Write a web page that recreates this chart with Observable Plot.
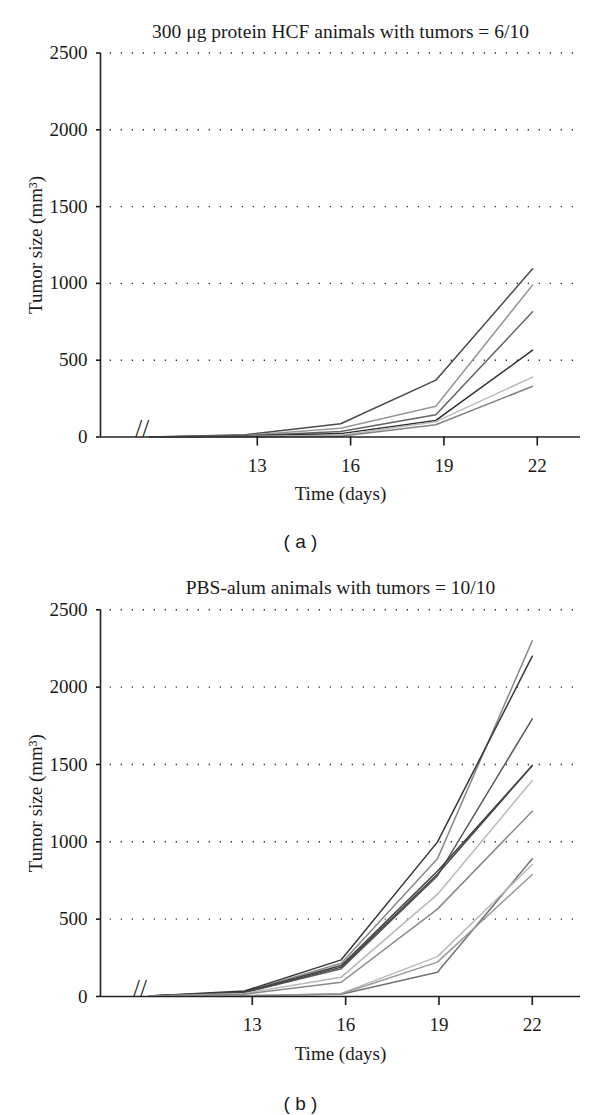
<!DOCTYPE html>
<html><head><meta charset="utf-8">
<script src="https://cdn.jsdelivr.net/npm/d3@7"></script>
<script src="https://cdn.jsdelivr.net/npm/@observablehq/plot@0.6"></script>
<style>
body{margin:0;background:#fff;width:600px;height:1115px;overflow:hidden}
#wrap{position:relative;width:600px;height:1115px}
.panel{position:absolute;left:0}
</style></head><body><div id="wrap"><div id="pa" class="panel" style="top:0"></div><div id="pb" class="panel" style="top:560px"></div></div>
<script>
const xTicks = [13, 16, 19, 22];
const yTicks = [0, 500, 1000, 1500, 2000, 2500];
const gridValues = [500, 1000, 1500, 2000, 2500];

const titleA = "300 \u03BCg protein HCF animals with tumors = 6/10";
const titleB = "PBS-alum animals with tumors = 10/10";
const xLabel = "Time (days)";
const yLabel = "Tumor size (mm\u00B3)";
const captionA = "( a )";
const captionB = "( b )";

const daysA = [9.54, 12.62, 15.68, 18.74, 21.85];
const daysB = [9.67, 12.75, 15.86, 18.95, 22.0];
const breakA = 9.3;
const breakB = 9.39;

// (a) 300 µg protein HCF: tumor volume per animal (mm³)
const hcfVolumes = [
  [0, 15, 86, 370, 1095],
  [0, 10, 57, 200, 990],
  [0, 8, 36, 145, 815],
  [0, 6, 22, 108, 565],
  [0, 4, 12, 100, 390],
  [0, 2, 5, 80, 330]
];
// (b) PBS-alum: tumor volume per animal (mm³)
const pbsVolumes = [
  [3, 30, 215, 890, 2300],
  [4, 35, 237, 998, 2200],
  [3, 25, 180, 780, 1795],
  [3, 28, 200, 810, 1493],
  [3, 26, 190, 790, 1493],
  [2, 20, 125, 660, 1396],
  [2, 15, 92, 565, 1198],
  [1, 5, 15, 157, 890],
  [1, 4, 20, 258, 853],
  [1, 3, 18, 222, 789]
];
const hcfGreys = ["#4a4a4a", "#969696", "#636363", "#2e2e2e", "#bababa", "#828282"];
const pbsGreys = ["#878787", "#363636", "#5a5a5a", "#404040", "#464646", "#b8b8b8", "#888888", "#737373", "#bababa", "#999999"];

function panel(o) {
  const rows = o.volumes.flatMap((v, i) => v.map((vol, j) => ({animal: i, day: o.days[j], vol})));
  return Plot.plot({
    width: 600, height: o.height,
    marginLeft: 100, marginRight: 20, marginTop: o.marginTop, marginBottom: o.marginBottom,
    style: {fontFamily: "'Liberation Serif', serif", fontSize: "19px", color: "#1a1a1a", background: "white"},
    x: {domain: o.xDomain},
    y: {domain: [0, 2500]},
    color: {type: "identity"},
    marks: [
      Plot.ruleY(gridValues, {stroke: "#333", strokeWidth: 1.4, strokeDasharray: "1.3,9.7", strokeDashoffset: -9.7}),
      Plot.line(rows, {x: "day", y: "vol", z: "animal", stroke: d => o.greys[d.animal], strokeWidth: 1.5}),
      Plot.ruleY([0], {stroke: "#222", strokeWidth: 1.6}),
      Plot.ruleX([o.xDomain[0]], {stroke: "#222", strokeWidth: 1.6}),
      Plot.axisY({ticks: yTicks, tickSize: 4, tickPadding: 9, tickFormat: d3.format("d"), label: null, strokeWidth: 1.6}),
      Plot.axisX({ticks: xTicks, tickSize: 9, tickPadding: 12, tickFormat: d3.format("d"), label: null, strokeWidth: 1.6}),
      Plot.text(["//"], {x: o.breakDay, y: 0, dy: -8, fontSize: 25, fill: "#222"}),
      Plot.text([o.title], {frameAnchor: "top", dy: o.titleDy, fontSize: 19.5, lineAnchor: "middle", textAnchor: "middle"}),
      Plot.text([xLabel], {frameAnchor: "bottom", dy: 57, lineAnchor: "middle", textAnchor: "middle"}),
      Plot.text([yLabel], {frameAnchor: "left", dx: -65, rotate: -90, lineAnchor: "middle", textAnchor: "middle"}),
      Plot.text([o.caption], {frameAnchor: "bottom", dx: -40, dy: o.captionDy, lineAnchor: "middle", textAnchor: "middle", fontFamily: "'Liberation Sans', sans-serif", fontSize: 19})
    ]
  });
}

document.getElementById("pa").append(panel({
  days: daysA, volumes: hcfVolumes, greys: hcfGreys, xDomain: [7.96, 23.39], breakDay: breakA,
  height: 560, marginTop: 52.5, marginBottom: 123.5, title: titleA, titleDy: -21, caption: captionA, captionDy: 104.5
}));
document.getElementById("pb").append(panel({
  days: daysB, volumes: pbsVolumes, greys: pbsGreys, xDomain: [8.12, 23.55], breakDay: breakB,
  height: 555, marginTop: 49.3, marginBottom: 119, title: titleB, titleDy: -22.3, caption: captionB, captionDy: 107
}));
</script></body></html>
